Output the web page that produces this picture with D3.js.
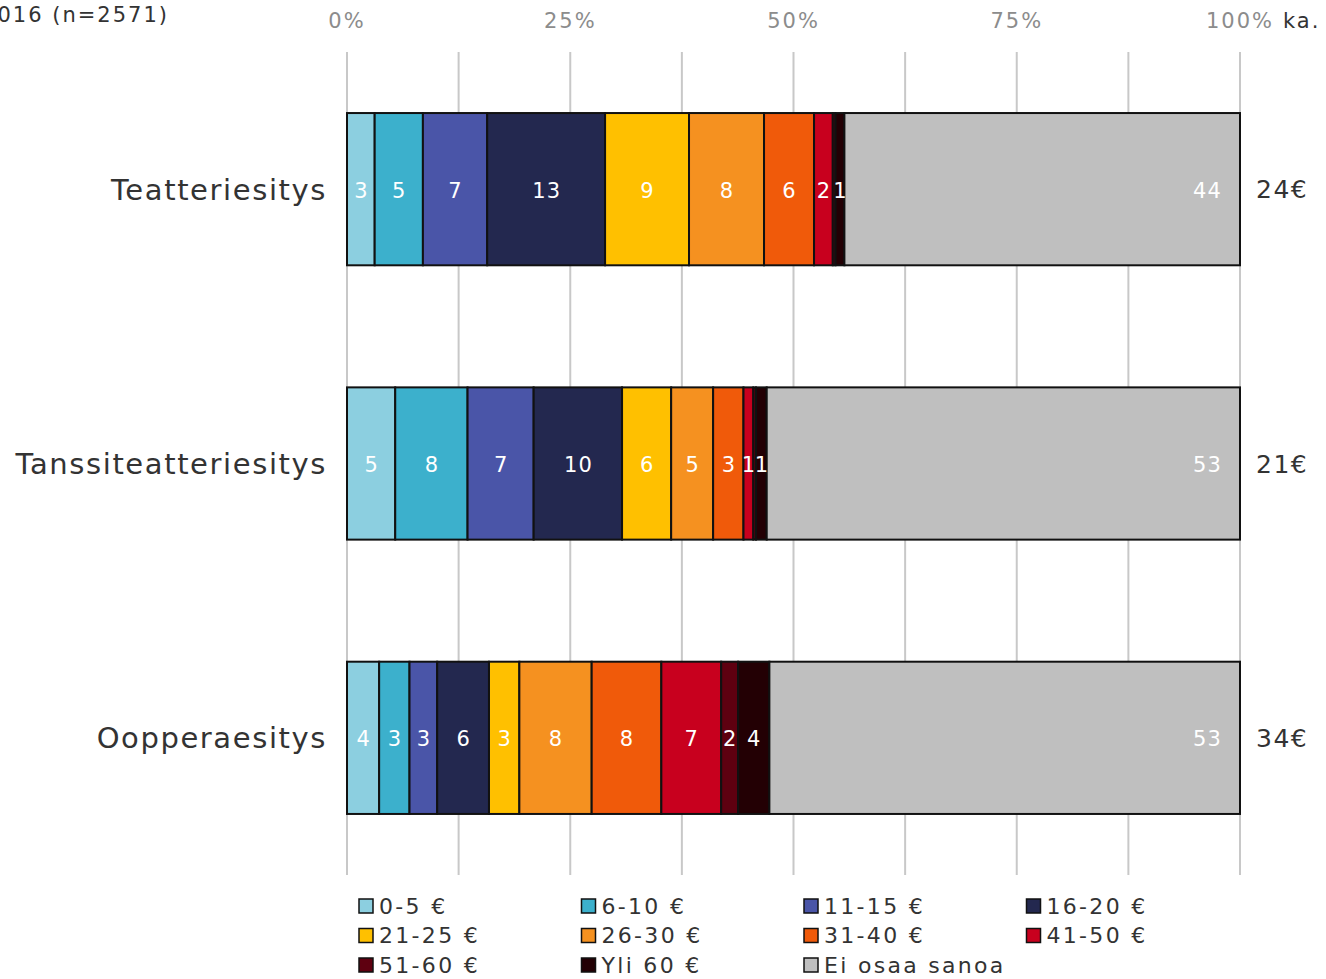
<!DOCTYPE html>
<html><head><meta charset="utf-8">
<script src="https://cdn.jsdelivr.net/npm/d3@7"></script>
<style>body{margin:0;background:#fff;} svg{display:block;font-family:"DejaVu Sans",sans-serif;}</style>
</head><body>
<svg id="c" width="1326" height="979"></svg>
<script>
const categories = ["Teatteriesitys", "Tanssiteatteriesitys", "Oopperaesitys"];
const seriesNames = ["0-5 €","6-10 €","11-15 €","16-20 €","21-25 €","26-30 €","31-40 €","41-50 €","51-60 €","Yli 60 €","Ei osaa sanoa"];
const teatteri = [3.1, 5.4, 7.2, 13.2, 9.4, 8.4, 5.6, 2.1, 0.3, 1.0, 44.3];
const tanssi   = [5.4, 8.1, 7.4, 9.9, 5.5, 4.7, 3.4, 1.1, 0.3, 1.2, 53.0];
const oopera   = [3.6, 3.4, 3.1, 5.8, 3.4, 8.1, 7.8, 6.7, 1.9, 3.5, 52.7];
const averages = ["24€", "21€", "34€"];
const tickValues = [0, 25, 50, 75, 100];
const tickLabels = ["0%", "25%", "50%", "75%", "100%"];
const colors = ["#8ccfe0","#3cb0cc","#4a55a8","#23284f","#ffc000","#f59120","#f05a0a","#c8001e","#5e0010","#230004","#bfbfbf"];

const svg = d3.select("#c");
const x = d3.scaleLinear().domain([0, 100]).range([347, 1240]);
const y = d3.scaleBand().domain(categories).range([52, 875]).paddingInner(0.445).paddingOuter(0.2225);
const color = d3.scaleOrdinal().domain(seriesNames).range(colors);

const rows = [teatteri, tanssi, oopera].map((vals, i) => {
  const o = {cat: categories[i]};
  seriesNames.forEach((s, j) => o[s] = vals[j]);
  return o;
});
const stack = d3.stack().keys(seriesNames)(rows);

// gridlines (every 12.5%)
const grid = d3.range(0, 100.1, 12.5);
svg.append("g").selectAll("line").data(grid).join("line")
  .attr("x1", d => x(d)).attr("x2", d => x(d))
  .attr("y1", 52).attr("y2", 875)
  .attr("stroke", "#c8c8c8").attr("stroke-width", 2);

// top axis labels
svg.append("g").selectAll("text").data(tickValues).join("text")
  .attr("x", d => x(d)).attr("y", 28)
  .attr("text-anchor", "middle")
  .attr("font-size", 21).attr("letter-spacing", 2).attr("fill", "#8c8c8c")
  .text((d, i) => tickLabels[i]);
svg.append("text").attr("x", 1283).attr("y", 28).attr("font-size", 21).attr("letter-spacing", 2).attr("fill", "#333")
  .text("ka.");
svg.append("text").attr("x", 169).attr("y", 22).attr("text-anchor", "end")
  .attr("font-size", 21).attr("letter-spacing", 2).attr("fill", "#333").text("2016 (n=2571)");

// bars
const layer = svg.append("g").selectAll("g").data(stack).join("g")
  .attr("fill", d => color(d.key));
layer.selectAll("rect").data(d => d).join("rect")
  .attr("x", d => x(d[0])).attr("width", d => x(d[1]) - x(d[0]))
  .attr("y", d => y(d.data.cat)).attr("height", y.bandwidth())
  .attr("stroke", "#111").attr("stroke-width", 2);

// value labels
stack.forEach((s, si) => {
  const last = si === seriesNames.length - 1;
  svg.append("g").selectAll("text").data(s.filter(d => Math.round(d[1] - d[0]) >= 1)).join("text")
    .attr("x", d => last ? x(d[1]) - 18 : (x(d[0]) + x(d[1])) / 2 + 0.6)
    .attr("y", d => y(d.data.cat) + y.bandwidth() / 2 + 1)
    .attr("dy", "0.36em")
    .attr("text-anchor", last ? "end" : "middle")
    .attr("font-size", 21).attr("letter-spacing", 1.2).attr("fill", "#fff")
    .text(d => Math.round(d[1] - d[0]));
});

// category labels
svg.append("g").selectAll("text").data(categories).join("text")
  .attr("x", 327).attr("y", d => y(d) + y.bandwidth() / 2).attr("dy", "0.36em")
  .attr("text-anchor", "end").attr("font-size", 29).attr("letter-spacing", 1.6).attr("fill", "#333")
  .text(d => d);

// averages
svg.append("g").selectAll("text").data(categories).join("text")
  .attr("x", 1256).attr("y", d => y(d) + y.bandwidth() / 2).attr("dy", "0.36em")
  .attr("font-size", 25).attr("letter-spacing", 1.5).attr("fill", "#333")
  .text((d, i) => averages[i]);

// legend
const lg = svg.append("g").selectAll("g").data(seriesNames).join("g")
  .attr("transform", (d, i) => `translate(${359 + (i % 4) * 222.5},${906 + Math.floor(i / 4) * 29.5})`);
lg.append("rect").attr("x", 0).attr("y", -7).attr("width", 14).attr("height", 14)
  .attr("fill", d => color(d)).attr("stroke", "#111").attr("stroke-width", 1.5);
lg.append("text").attr("x", 20).attr("y", 0).attr("dy", "0.36em")
  .attr("font-size", 22).attr("letter-spacing", 2.3).attr("fill", "#333").text(d => d);
</script>
</body></html>
